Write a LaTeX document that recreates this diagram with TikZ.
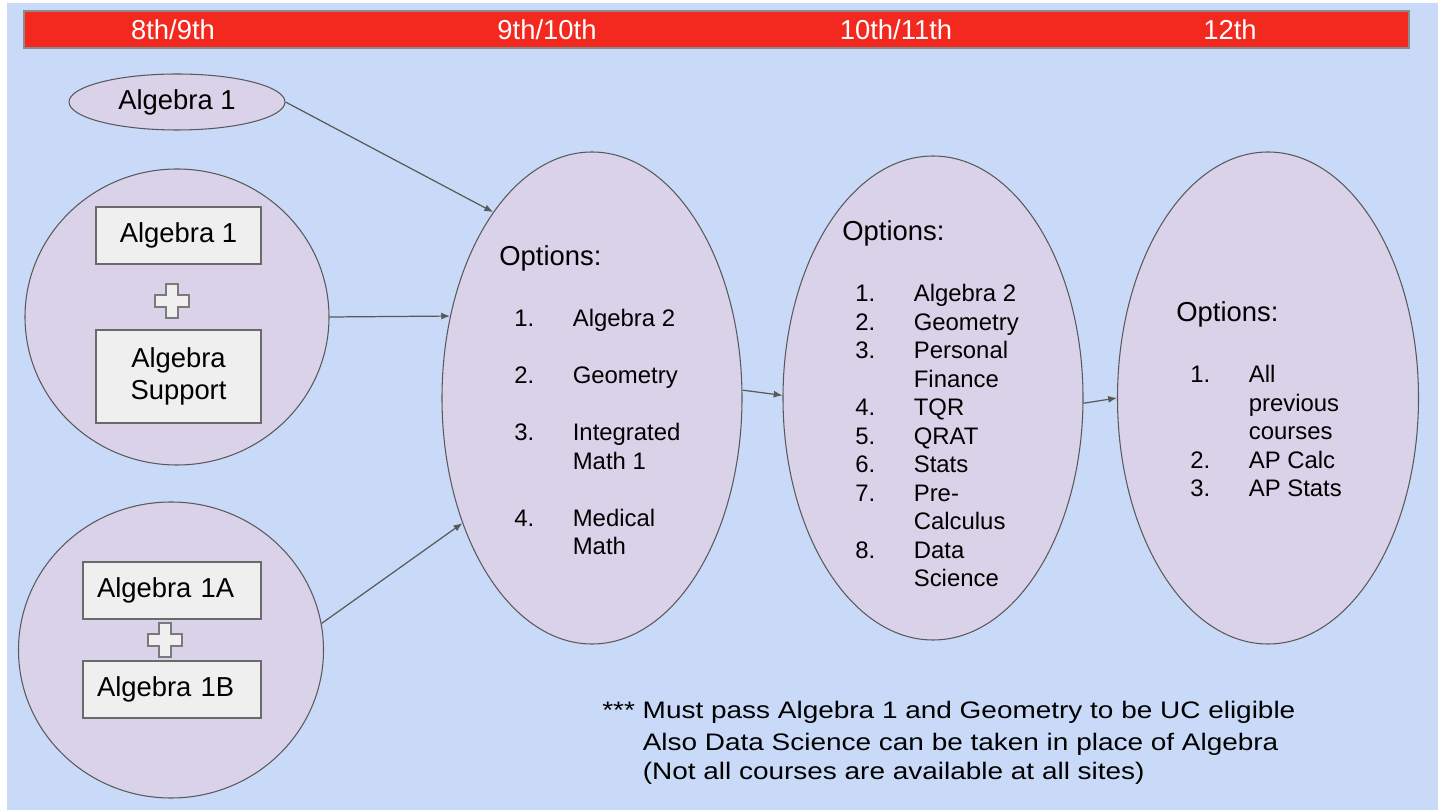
\documentclass[tikz,border=0pt]{standalone}
\usepackage{fontspec}
\setmainfont{Liberation Sans}
\usepackage{graphicx}
\usetikzlibrary{shapes.geometric,arrows.meta}

\definecolor{bgblue}{HTML}{C9DAF8}
\definecolor{barred}{HTML}{F3281F}
\definecolor{lilac}{HTML}{D9D2E9}
\definecolor{boxgray}{HTML}{EFEFEF}
\definecolor{edgegray}{HTML}{595959}

\def\pxu{0.02cm}
\newcommand{\fbig}{\fontsize{15.6}{18.1}\selectfont}
\newcommand{\fsmall}{\fontsize{13.6}{16.2}\selectfont}
% plus sign between two course boxes
\newcommand{\plusmark}[1]{%
  \draw[plusline] (#1) ++(-6,-17) -- ++(12,0) -- ++(0,11) -- ++(11,0) -- ++(0,12)
    -- ++(-11,0) -- ++(0,11) -- ++(-12,0) -- ++(0,-11) -- ++(-11,0) -- ++(0,-12)
    -- ++(11,0) -- cycle;}

\tikzset{
  bubble/.style={ellipse, draw=edgegray, fill=lilac, line width=0.6pt, inner sep=0pt},
  course/.style={rectangle, draw=edgegray!90, fill=boxgray, line width=0.6pt,
                 align=center, font=\fbig, inner sep=0pt},
  halfcourse/.style={course, align=left, text width=150*\pxu, inner xsep=14*\pxu,
                 minimum width=178*\pxu, minimum height=57*\pxu},
  plusline/.style={draw=edgegray!80, fill=boxgray, line width=0.6pt},
  yearlbl/.style={anchor=base, text=white, font=\fbig, inner sep=0pt},
  optlbl/.style={anchor=base west, font=\fbig, inner sep=0pt},
  optlist/.style={anchor=base west, font=\fsmall, inner sep=0pt},
  link/.style={->, draw=edgegray, line width=0.7pt}
}

\begin{document}
\begin{tikzpicture}[x=\pxu, y=-\pxu, >={Latex[length=5pt,width=4pt]}]
    \useasboundingbox (0,0) rectangle (1444,810);
    \fill[white] (0,0) rectangle (1444,810);
    \fill[bgblue] (7,3) rectangle (1438,810);

    % grade bar
    \draw[fill=barred, draw=edgegray!70, line width=0.6pt] (24,11) rectangle (1409,48);
    \node[yearlbl] (yr89) at (173,40) {8th/9th};
    \node[yearlbl] (yr910) at (547,40) {9th/10th};
    \node[yearlbl] (yr1011) at (896,40) {10th/11th};
    \node[yearlbl] (yr12) at (1230,40) {12th};

    % starting points
    \node[bubble, minimum width=216*\pxu, minimum height=56*\pxu, font=\fbig] (alg) at (177,102) {Algebra 1};
    \node[bubble, minimum width=304*\pxu, minimum height=296*\pxu] (circA) at (177,317) {};
    \node[bubble, minimum width=305*\pxu, minimum height=296*\pxu] (circB) at (171,650) {};

    \node[course, minimum width=165*\pxu, minimum height=57*\pxu] (boxA) at (178.5,235.5) {Algebra 1};
    \plusmark{172,301}
    \node[course, minimum width=165*\pxu, minimum height=93*\pxu] (boxSup) at (178.5,376.5) {Algebra\\Support};

    \node[halfcourse] (boxAa) at (172,590.5) {Algebra 1A};
    \plusmark{165,640}
    \node[halfcourse] (boxAb) at (172,689.5) {Algebra 1B};

    % option bubbles
    \node[bubble, minimum width=300*\pxu, minimum height=492*\pxu] (optA) at (592,398) {};
    \node[bubble, minimum width=300*\pxu, minimum height=484*\pxu] (optB) at (933,398) {};
    \node[bubble, minimum width=301*\pxu, minimum height=492*\pxu] (optC) at (1268,398) {};

    \node[optlbl] (optAhd) at (499,266) {Options:};
    \node[optlist] (optAls) at (514,327) {\begin{tabular}[t]{@{}p{1.17cm}@{}l@{}}
        1. & Algebra 2\\ & \\
        2. & Geometry\\ & \\
        3. & Integrated\\ & Math 1\\ & \\
        4. & Medical\\ & Math
      \end{tabular}};

    \node[optlbl] (optBhd) at (842,241) {Options:};
    \node[optlist] (optBls) at (855,302) {\begin{tabular}[t]{@{}p{1.17cm}@{}l@{}}
        1. & Algebra 2\\
        2. & Geometry\\
        3. & Personal\\ & Finance\\
        4. & TQR\\
        5. & QRAT\\
        6. & Stats\\
        7. & Pre-\\ & Calculus\\
        8. & Data\\ & Science
      \end{tabular}};

    \node[optlbl] (optChd) at (1176,322) {Options:};
    \node[optlist] (optCls) at (1190,383) {\begin{tabular}[t]{@{}p{1.17cm}@{}l@{}}
        1. & All\\ & previous\\ & courses\\
        2. & AP Calc\\
        3. & AP Stats
      \end{tabular}};

    % connectors
    \draw[link] (alg.east) -- (optA.118);
    \draw[link] (circA.east) -- (optA.150);
    \draw[link] (circB.10) -- (optA.224);
    \draw[link] (optA.3) -- (optB.179);
    \draw[link] (optB.358) -- (optC.180);

    \node[optlist] (note) at (602,718) {\scalebox{1.17}[1]{\begin{tabular}[t]{@{}l@{ }l@{}}
        *** & Must pass Algebra 1 and Geometry to be UC eligible\\[2.5pt]
            & Also Data Science can be taken in place of Algebra\\
            & (Not all courses are available at all sites)
      \end{tabular}}};
\end{tikzpicture}
\end{document}
